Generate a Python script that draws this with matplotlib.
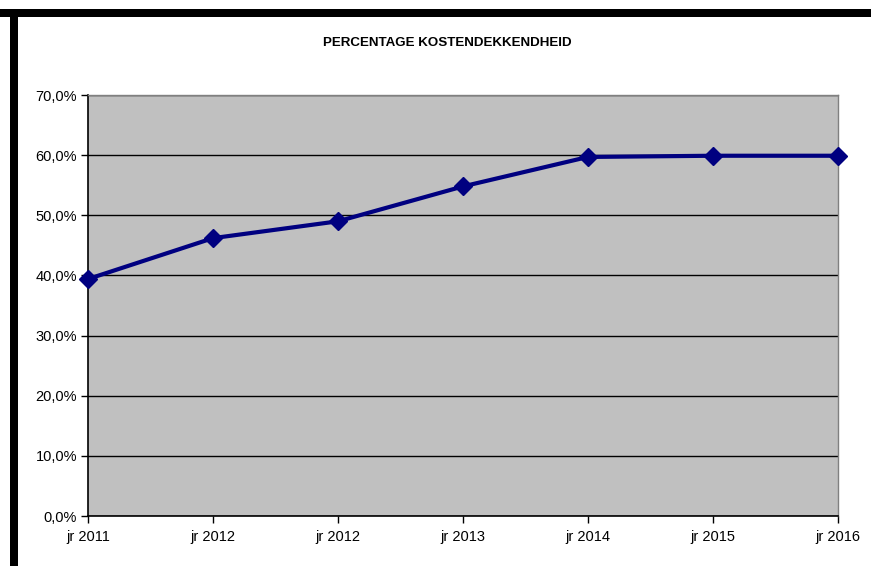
import matplotlib
matplotlib.use("Agg")
import matplotlib.pyplot as plt
from matplotlib.patches import Rectangle
from matplotlib.ticker import FuncFormatter, MultipleLocator

categories = ["jr 2011", "jr 2012", "jr 2012", "jr 2013", "jr 2014", "jr 2015", "jr 2016"]
values = [39.4, 46.2, 49.0, 54.8, 59.7, 59.9, 59.9]
title = "PERCENTAGE KOSTENDEKKENDHEID"

plt.rcParams['font.family'] = ['Liberation Sans', 'DejaVu Sans']

W, H = 871, 566
fig = plt.figure(figsize=(W / 100, H / 100), dpi=100)
fig.patch.set_facecolor("white")

# black frame (top and left bands)
fig.add_artist(Rectangle((0, 1 - 17 / H), 1, 8 / H, transform=fig.transFigure,
                         facecolor="black", edgecolor="none"))
fig.add_artist(Rectangle((10 / W, 0), 8 / W, 1 - 9 / H, transform=fig.transFigure,
                         facecolor="black", edgecolor="none"))

left, right, top, bottom = 88, 838, 95, 516
ax = fig.add_axes([left / W, 1 - bottom / H, (right - left) / W, (bottom - top) / H])
ax.set_facecolor("#c0c0c0")

x = list(range(len(categories)))
ax.plot(x, values, color="#000080", linewidth=3, marker="D", markersize=9.5,
        markerfacecolor="#000080", markeredgecolor="#000080", clip_on=False, zorder=5)

ax.set_xlim(0, len(categories) - 1)
ax.set_ylim(0, 70)
ax.yaxis.set_major_locator(MultipleLocator(10))
ax.yaxis.set_major_formatter(FuncFormatter(lambda v, p: f"{v:.1f}%".replace(".", ",")))
ax.set_xticks(x)
ax.set_xticklabels(categories)
ax.grid(axis="y", color="black", linewidth=1)
ax.set_axisbelow(True)

for s in ["top", "right"]:
    ax.spines[s].set_color("#808080")
    ax.spines[s].set_linewidth(1)
for s in ["left", "bottom"]:
    ax.spines[s].set_color("black")
    ax.spines[s].set_linewidth(1.2)

ax.tick_params(axis="both", direction="out", length=5, width=1, color="black",
               labelsize=10.5, labelcolor="black")
ax.tick_params(axis="x", pad=5)
ax.tick_params(axis="y", pad=3)

fig.text(447 / W, 1 - 43 / H, title, ha="center", va="center",
         fontsize=9.6, fontweight="bold", color="black")

fig.savefig("out.png", dpi=100, facecolor="white")
